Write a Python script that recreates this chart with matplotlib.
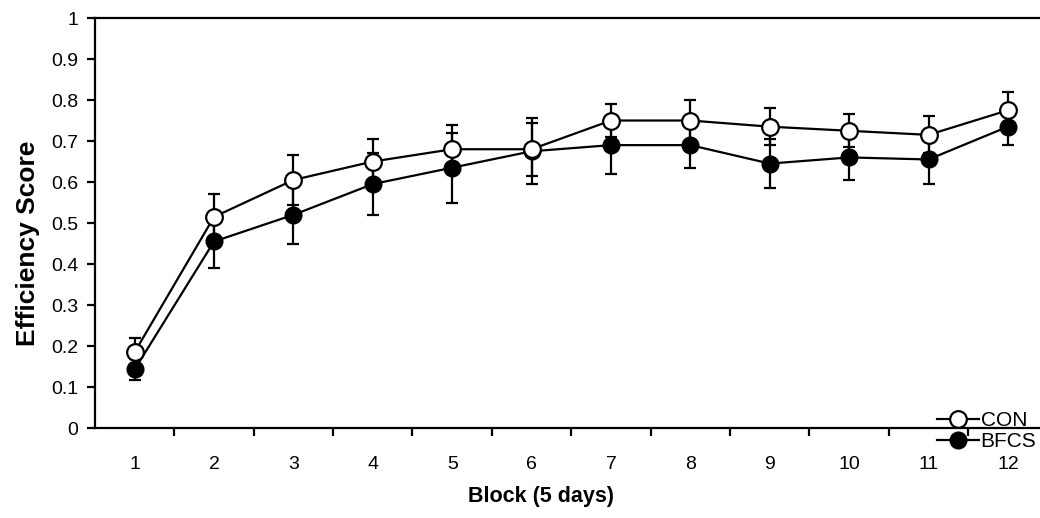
import numpy as np
import matplotlib.pyplot as plt
from matplotlib.lines import Line2D

plt.rcParams['font.family'] = ['Liberation Sans', 'DejaVu Sans']

blocks = list(range(1, 13))
con_mean = [0.185, 0.515, 0.605, 0.650, 0.680, 0.680, 0.750, 0.750, 0.735, 0.725, 0.715, 0.775]
con_sem = [0.035, 0.055, 0.060, 0.055, 0.060, 0.065, 0.040, 0.050, 0.045, 0.040, 0.045, 0.045]
bfcs_mean = [0.143, 0.455, 0.520, 0.595, 0.635, 0.675, 0.690, 0.690, 0.645, 0.660, 0.655, 0.735]
bfcs_sem = [0.025, 0.065, 0.070, 0.075, 0.085, 0.080, 0.070, 0.055, 0.060, 0.055, 0.060, 0.045]
yticks = [0, 0.1, 0.2, 0.3, 0.4, 0.5, 0.6, 0.7, 0.8, 0.9, 1]
ytick_labels = ['0', '0.1', '0.2', '0.3', '0.4', '0.5', '0.6', '0.7', '0.8', '0.9', '1']

fig = plt.figure(figsize=(10.4, 5.18), dpi=100)
ax = fig.add_axes([0.0913, 0.1737, 0.916, 0.7915])

ax.errorbar(blocks, bfcs_mean, yerr=bfcs_sem, color='black', lw=1.6, marker='o',
            ms=12, mfc='black', mec='black', capsize=4.5, elinewidth=1.6, capthick=1.6,
            zorder=2)
ax.errorbar(blocks, con_mean, yerr=con_sem, color='black', lw=1.6, marker='o',
            ms=12, mfc='white', mec='black', mew=1.6, capsize=4.5, elinewidth=1.6,
            capthick=1.6, zorder=3)

ax.set_xlim(0.5, 12.5)
ax.set_ylim(0, 1)
ax.set_yticks(yticks)
ax.set_yticklabels(ytick_labels)
ax.set_xticks(blocks)
ax.set_xticks(np.arange(1.5, 12.5, 1), minor=True)
ax.tick_params(axis='x', which='major', length=0, pad=20, labelsize=14)
ax.tick_params(axis='x', which='minor', length=6, width=1.6, direction='out')
ax.tick_params(axis='y', length=6, width=1.6, direction='out', labelsize=14, pad=6)
for s in ax.spines.values():
    s.set_linewidth(1.6)

ax.set_ylabel('Efficiency Score', fontsize=19, fontweight='bold')
ax.yaxis.set_label_coords(-0.058, 0.45)
fig.text(0.52, 0.03, 'Block (5 days)', fontsize=15.5, fontweight='bold', ha='center')

handles = [
    Line2D([], [], color='black', lw=1.6, marker='o', ms=12, mfc='white', mec='black', mew=1.6),
    Line2D([], [], color='black', lw=1.6, marker='o', ms=12, mfc='black', mec='black'),
]
ax.legend(handles, ['CON', 'BFCS'], loc='lower right',
          bbox_to_anchor=(0.997, -0.077), frameon=False, fontsize=15,
          handlelength=2.0, handletextpad=0.1, labelspacing=0.1,
          borderaxespad=0)

fig.savefig('out.png', dpi=100)
